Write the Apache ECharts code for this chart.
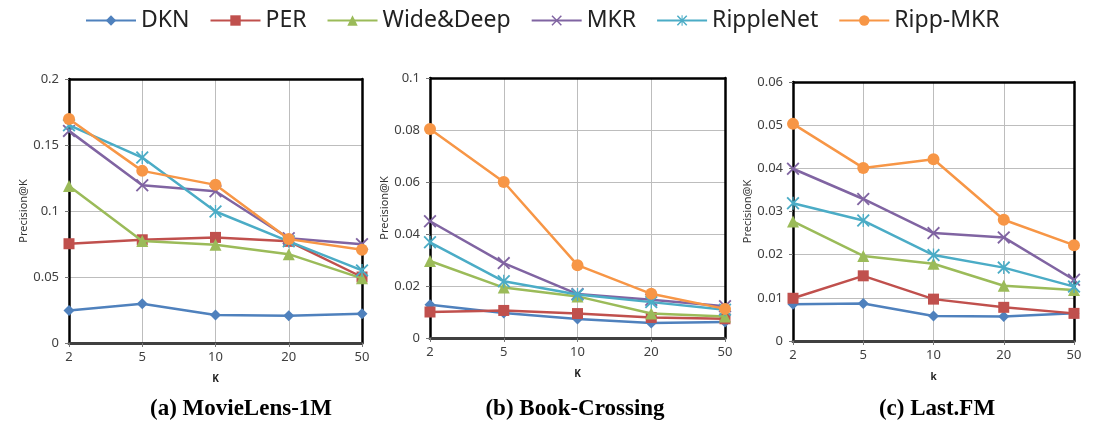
<!DOCTYPE html>
<html>
<head>
    <meta charset=utf-8>
    <title>Precision@K</title>
    <script src="https://cdn.jsdelivr.net/npm/echarts@6/dist/echarts.min.js"></script>
</head>
<body style="margin:0;background:#fff">
<div id="main" style="width:1097px;height:430px;"></div>
<script type="text/javascript">
    // K 取值
    var kValues = ['2', '5', '10', '20', '50'];
    var modelNames = ['DKN', 'PER', 'Wide&Deep', 'MKR', 'RippleNet', 'Ripp-MKR'];

    // (a) MovieLens-1M
    var movieDKN = [0.0247, 0.0298, 0.0212, 0.0207, 0.0222];
    var moviePER = [0.0752, 0.0782, 0.0800, 0.0770, 0.0500];
    var movieWide = [0.1190, 0.0772, 0.0744, 0.0673, 0.0490];
    var movieMKR = [0.1607, 0.1195, 0.1150, 0.0794, 0.0749];
    var movieRipple = [0.1650, 0.1405, 0.0996, 0.0770, 0.0550];
    var movieRippMKR = [0.1697, 0.1304, 0.1198, 0.0787, 0.0706];

    // (b) Book-Crossing
    var bookDKN = [0.0128, 0.0096, 0.0073, 0.0058, 0.0062];
    var bookPER = [0.0100, 0.0106, 0.0094, 0.0079, 0.0074];
    var bookWide = [0.0296, 0.0194, 0.0160, 0.0094, 0.0083];
    var bookMKR = [0.0449, 0.0288, 0.0169, 0.0147, 0.0122];
    var bookRipple = [0.0368, 0.0218, 0.0167, 0.0138, 0.0109];
    var bookRippMKR = [0.0804, 0.0600, 0.0280, 0.0170, 0.0112];

    // (c) Last.FM
    var fmDKN = [0.0085, 0.0087, 0.0058, 0.0057, 0.0064];
    var fmPER = [0.0099, 0.0151, 0.0097, 0.0078, 0.0064];
    var fmWide = [0.0277, 0.0197, 0.0179, 0.0128, 0.0118];
    var fmMKR = [0.0399, 0.0329, 0.0250, 0.0240, 0.0142];
    var fmRipple = [0.0319, 0.0279, 0.0199, 0.0170, 0.0126];
    var fmRippMKR = [0.0503, 0.0401, 0.0421, 0.0281, 0.0222];

    var panelData = [
        [movieDKN, moviePER, movieWide, movieMKR, movieRipple, movieRippMKR],
        [bookDKN, bookPER, bookWide, bookMKR, bookRipple, bookRippMKR],
        [fmDKN, fmPER, fmWide, fmMKR, fmRipple, fmRippMKR]
    ];
    var panelTitles = ['(a) MovieLens-1M', '(b) Book-Crossing', '(c) Last.FM'];
    var axisNames = ['K', 'K', 'k'];
    var yMax = [0.2, 0.1, 0.06];
    var yStep = [0.05, 0.02, 0.01];

    var colors = ['#4F81BD', '#C0504D', '#9BBB59', '#8064A2', '#4BACC6', '#F79646'];
    var xPath = 'path://M0,1L1,0L5,4L9,0L10,1L6,5L10,9L9,10L5,6L1,10L0,9L4,5Z';
    var starPath = xPath + 'M4.5,0L5.5,0L5.5,10L4.5,10Z';
    var symbols = ['diamond', 'rect', 'triangle', xPath, starPath, 'circle'];
    var symbolSizes = [11, 11, 12, 13, 13, 12];

    var grids = [
        {left: 69, top: 79, width: 293, height: 264},
        {left: 430, top: 78, width: 295, height: 260},
        {left: 793, top: 82, width: 281, height: 259}
    ];
    var titleCenters = [236, 570, 932];

    var myChart = echarts.init(document.getElementById('main'));

    var xAxes = [], yAxes = [], frameX = [], frameY = [], series = [], titles = [];
    grids.forEach(function (g, i) {
        xAxes.push({
            type: 'category',
            gridIndex: i,
            boundaryGap: false,
            data: kValues,
            name: axisNames[i],
            nameLocation: 'middle',
            nameGap: 31,
            nameTextStyle: {fontSize: 10, fontWeight: 'bold', color: '#222', fontFamily: 'Noto Sans'},
            axisLine: {lineStyle: {color: '#404040', width: 3}},
            axisTick: {show: true, length: 4, lineStyle: {color: '#777'}},
            axisLabel: {fontSize: 13, color: '#404040', fontFamily: 'Noto Sans', margin: 8},
            splitLine: {show: true, lineStyle: {color: '#bdbdbd', width: 1}},
            z: 1
        });
        yAxes.push({
            type: 'value',
            gridIndex: i,
            min: 0,
            max: yMax[i],
            interval: yStep[i],
            name: 'Precision@K',
            nameLocation: 'middle',
            nameGap: 40,
            nameTextStyle: {fontSize: 11, color: '#333', fontFamily: 'Noto Sans'},
            axisLine: {show: true, lineStyle: {color: '#000', width: 2.5}},
            axisTick: {show: true, length: 4, lineStyle: {color: '#777'}},
            axisLabel: {fontSize: 13, color: '#404040', fontFamily: 'Noto Sans', margin: 10},
            splitLine: {show: true, lineStyle: {color: '#bdbdbd', width: 1}},
            z: 1
        });
        // 上边框和右边框
        frameX.push({
            type: 'category', gridIndex: i, position: 'top', boundaryGap: false, data: kValues,
            axisLine: {show: true, onZero: false, lineStyle: {color: '#000', width: 2.5}},
            axisTick: {show: false}, axisLabel: {show: false}, splitLine: {show: false}, z: 1
        });
        frameY.push({
            type: 'value', gridIndex: i, position: 'right', min: 0, max: yMax[i], interval: yStep[i],
            axisLine: {show: true, onZero: false, lineStyle: {color: '#000', width: 2.5}},
            axisTick: {show: false}, axisLabel: {show: false}, splitLine: {show: false}, z: 1
        });
        titles.push({
            text: panelTitles[i],
            left: titleCenters[i],
            top: 393,
            textAlign: 'center',
            textStyle: {fontFamily: 'Liberation Serif', fontWeight: 'bold', fontSize: 23, color: '#000'}
        });
        panelData[i].forEach(function (vals, j) {
            series.push({
                name: modelNames[j],
                type: 'line',
                xAxisIndex: i,
                yAxisIndex: i,
                data: vals,
                symbol: symbols[j],
                symbolSize: symbolSizes[j],
                showAllSymbol: true,
                lineStyle: {color: colors[j], width: 2.5},
                itemStyle: {color: colors[j]},
                z: 2 + j
            });
        });
    });

    var option = {
        animation: false,
        title: titles,
        legend: {
            data: modelNames,
            top: 4,
            left: 80,
            itemWidth: 50,
            itemHeight: 13,
            itemGap: 20,
            textStyle: {fontSize: 23, color: '#222', fontFamily: 'Noto Sans'}
        },
        grid: grids,
        xAxis: xAxes.concat(frameX),
        yAxis: yAxes.concat(frameY),
        series: series
    };

    myChart.setOption(option);
</script>
</body>
</html>
